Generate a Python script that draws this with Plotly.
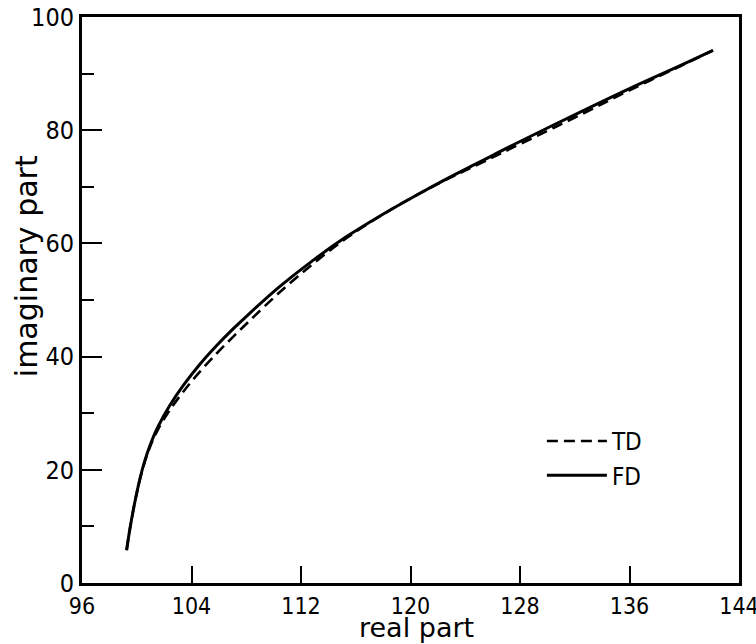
import plotly.graph_objects as go

# Data
fd_x = [99.26, 99.51, 99.87, 100.24, 100.60, 101.09, 101.57, 102.4, 103.40, 104.6,
        105.84, 107.0, 108.27, 110.46, 112.9, 115.33, 117.77, 120.2, 122.64, 125.07,
        128.0, 132.4, 136.0, 139.7, 142.1]
fd_y = [5.8, 9.7, 14.4, 18.5, 21.7, 25.1, 27.7, 31.3, 34.9, 38.6,
        41.95, 44.8, 47.7, 52.4, 57.05, 61.2, 64.85, 68.2, 71.4, 74.4,
        78.0, 83.2, 87.35, 91.4, 94.1]

td_x = [99.26, 99.51, 99.87, 100.24, 100.60, 101.09, 101.57, 102.4, 103.40, 104.6,
        105.84, 107.0, 108.27, 110.46, 112.9, 115.33, 117.77, 120.2, 122.64, 125.07,
        128.0, 132.4, 136.0, 139.7, 142.1]
td_y = [5.8, 9.7, 14.4, 18.4, 21.5, 24.8, 27.2, 30.5, 33.8, 37.3,
        40.55, 43.4, 46.4, 51.4, 56.45, 60.95, 64.8, 68.2, 71.3, 74.1,
        77.55, 82.7, 87.05, 91.3, 94.1]

x_ticks = [96, 104, 112, 120, 128, 136, 144]
y_ticks = [0, 20, 40, 60, 80, 100]

TICKFONT = "Liberation Sans Narrow, DejaVu Sans Condensed, sans-serif"
TITLEFONT = "DejaVu Sans, sans-serif"

fig = go.Figure()
fig.add_trace(go.Scatter(x=td_x, y=td_y, mode="lines", name="TD",
                         line=dict(color="black", width=2.6, dash="11px,6px", shape="spline")))
fig.add_trace(go.Scatter(x=fd_x, y=fd_y, mode="lines", name="FD",
                         line=dict(color="black", width=3, shape="spline")))

fig.update_layout(
    width=756, height=644,
    margin=dict(l=82, r=17, t=17, b=61, autoexpand=False),
    paper_bgcolor="white", plot_bgcolor="white",
    font=dict(family=TICKFONT, color="black", size=23),
    showlegend=True,
    legend=dict(x=0.70, y=0.29, xanchor="left", yanchor="top",
                bgcolor="rgba(0,0,0,0)", font=dict(size=24, family=TICKFONT),
                tracegroupgap=0, itemwidth=60),
    xaxis=dict(range=[96, 144.0001], tickvals=x_ticks, ticktext=[str(v) for v in x_ticks],
               ticks="inside", ticklen=17, tickwidth=2, tickcolor="black",
               showline=True, linewidth=3, linecolor="black", mirror=True,
               showgrid=False, zeroline=False, automargin=False,
               ticklabeloverflow="allow",
               tickfont=dict(size=23)),
    yaxis=dict(range=[0, 100], tickvals=y_ticks, ticktext=[str(v) for v in y_ticks],
               ticks="inside", ticklen=20, tickwidth=2, tickcolor="black",
               showline=True, linewidth=3, linecolor="black", mirror=True,
               showgrid=False, zeroline=False, automargin=False,
               minor=dict(dtick=10, ticks="inside", ticklen=12, tickwidth=2,
                          tickcolor="black", showgrid=False),
               tickfont=dict(size=25)),
    annotations=[
        dict(text="real part", xref="paper", yref="paper", x=0.509, y=-0.1095,
             xanchor="center", yanchor="bottom", showarrow=False,
             font=dict(size=27, family=TITLEFONT)),
        dict(text="imaginary part", xref="paper", yref="paper", x=-0.085, y=0.56,
             xanchor="center", yanchor="middle", textangle=-90, showarrow=False,
             font=dict(size=30, family=TITLEFONT)),
    ],
)

fig.write_html("out.html")
